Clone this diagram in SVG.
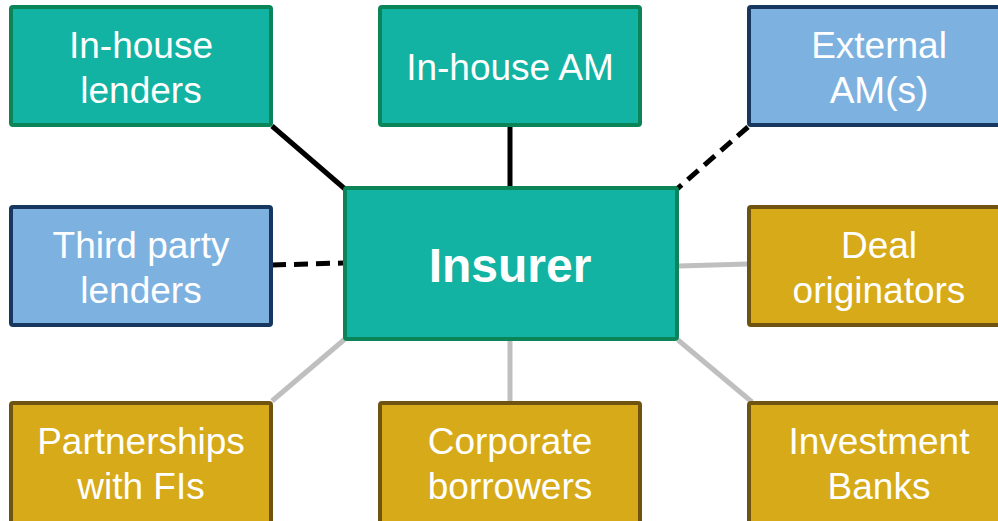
<svg xmlns="http://www.w3.org/2000/svg" width="998" height="521" viewBox="0 0 998 521">
  <style>
    .teal rect { fill: #12B3A2; stroke: #0B8557; stroke-width: 4; }
    .blue rect { fill: #7DB2E0; stroke: #17375E; stroke-width: 4; }
    .gold rect { fill: #D6AA18; stroke: #6E5410; stroke-width: 4; }
    text { font-family: "Liberation Sans", Arial, sans-serif; font-size: 37px; fill: #FFFFFF; text-anchor: middle; }
    .title { font-size: 48px; font-weight: bold; }
    .solid { stroke: #000000; stroke-width: 5; fill: none; }
    .dash { stroke: #000000; stroke-width: 5; stroke-dasharray: 14 8; fill: none; }
    .light { stroke: #BFBFBF; stroke-width: 5; fill: none; }
  </style>
  <rect width="998" height="521" fill="#FFFFFF"/>

  <g id="connectors">
    <line class="solid" x1="272" y1="126" x2="345" y2="189"/>
    <line class="solid" x1="510" y1="126" x2="510" y2="187"/>
    <line class="dash" x1="748" y1="127" x2="677" y2="189"/>
    <line class="dash" x1="272" y1="265" x2="343" y2="263"/>
    <line class="light" x1="679" y1="266" x2="748" y2="264"/>
    <line class="light" x1="272" y1="401" x2="345" y2="339"/>
    <line class="light" x1="510" y1="341" x2="510" y2="402"/>
    <line class="light" x1="678" y1="340" x2="752" y2="402"/>
  </g>

  <g id="in-house-lenders" class="teal">
    <rect x="11" y="7" width="260" height="118" rx="2"/>
    <text x="141" y="58">In-house</text>
    <text x="141" y="103">lenders</text>
  </g>
  <g id="in-house-am" class="teal">
    <rect x="380" y="7" width="260" height="118" rx="2"/>
    <text x="510" y="80">In-house AM</text>
  </g>
  <g id="external-am" class="blue">
    <rect x="749" y="7" width="260" height="118" rx="2"/>
    <text x="879" y="58">External</text>
    <text x="879" y="103">AM(s)</text>
  </g>
  <g id="third-party-lenders" class="blue">
    <rect x="11" y="207" width="260" height="118" rx="2"/>
    <text x="141" y="258">Third party</text>
    <text x="141" y="303">lenders</text>
  </g>
  <g id="insurer" class="teal">
    <rect x="345" y="188" width="332" height="151" rx="2"/>
    <text class="title" x="510" y="282">Insurer</text>
  </g>
  <g id="deal-originators" class="gold">
    <rect x="749" y="207" width="260" height="118" rx="2"/>
    <text x="879" y="258">Deal</text>
    <text x="879" y="303">originators</text>
  </g>
  <g id="partnerships" class="gold">
    <rect x="11" y="403" width="260" height="120" rx="2"/>
    <text x="141" y="454">Partnerships</text>
    <text x="141" y="499">with FIs</text>
  </g>
  <g id="corporate-borrowers" class="gold">
    <rect x="380" y="403" width="260" height="120" rx="2"/>
    <text x="510" y="454">Corporate</text>
    <text x="510" y="499">borrowers</text>
  </g>
  <g id="investment-banks" class="gold">
    <rect x="749" y="403" width="260" height="120" rx="2"/>
    <text x="879" y="454">Investment</text>
    <text x="879" y="499">Banks</text>
  </g>
</svg>
